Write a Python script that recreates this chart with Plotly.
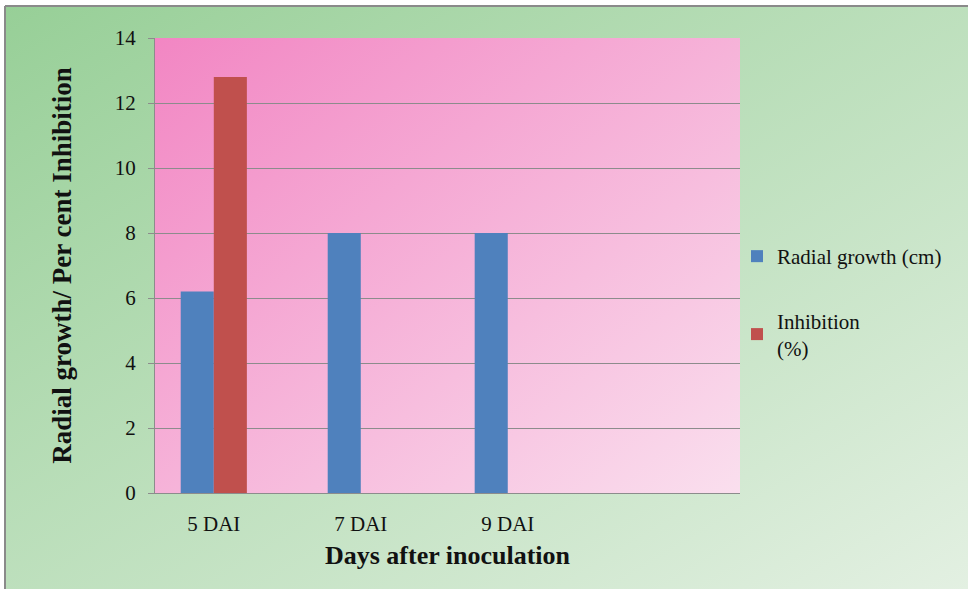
import base64
import plotly.graph_objects as go

# Data
categories = ["5 DAI", "7 DAI", "9 DAI"]
radial_growth = [6.2, 8.0, 8.0]
inhibition = [12.8, 0.0, 0.0]
y_ticks = [0, 2, 4, 6, 8, 10, 12, 14]

W, H = 968, 589
L, R, T, B = 155, 228, 38, 96
pw, ph = W - L - R, H - T - B


def gradient_uri(c0, c1):
    svg = (
        '<svg xmlns="http://www.w3.org/2000/svg" width="100" height="100" '
        'preserveAspectRatio="none" viewBox="0 0 100 100">'
        '<defs><linearGradient id="g" x1="0" y1="0" x2="1" y2="1">'
        f'<stop offset="0" stop-color="{c0}"/><stop offset="1" stop-color="{c1}"/>'
        '</linearGradient></defs><rect width="100" height="100" fill="url(#g)"/></svg>'
    )
    return "data:image/svg+xml;base64," + base64.b64encode(svg.encode()).decode()


def px_x(x):
    return (x - L) / pw


def px_y(y):
    return (H - B - y) / ph


x_pos = list(range(len(categories)))

fig = go.Figure()
fig.add_trace(go.Bar(
    x=x_pos, y=radial_growth, name="Radial growth (cm)",
    marker=dict(color="#4F81BD", line=dict(width=0)), legendgroup="a",
))
fig.add_trace(go.Bar(
    x=x_pos, y=inhibition, name="Inhibition<br>(%)",
    marker=dict(color="#C0504D", line=dict(width=0)), legendgroup="b",
))

font_family = "Liberation Serif"
ink = "#111111"

fig.update_layout(
    width=W, height=H,
    margin=dict(l=L, r=R, t=T, b=B, pad=0),
    paper_bgcolor="white",
    plot_bgcolor="rgba(0,0,0,0)",
    barmode="group", bargap=0.55, bargroupgap=0,
    font=dict(family=font_family, size=20, color=ink),
    showlegend=True,
    legend=dict(
        x=px_x(737), y=px_y(236), xanchor="left", yanchor="top",
        bgcolor="rgba(0,0,0,0)", traceorder="grouped", tracegroupgap=34,
        font=dict(family=font_family, size=21, color=ink),
        itemwidth=30,
    ),
    images=[
        dict(source=gradient_uri("#97CF97", "#E3F0E2"), xref="paper", yref="paper",
             x=px_x(5), y=px_y(6), sizex=px_x(W) - px_x(5), sizey=px_y(6) - px_y(H),
             xanchor="left", yanchor="top", sizing="stretch", layer="below"),
        dict(source=gradient_uri("#F286C3", "#FADFEE"), xref="paper", yref="paper",
             x=0, y=1, sizex=1, sizey=1,
             xanchor="left", yanchor="top", sizing="stretch", layer="below"),
    ],
    shapes=[
        dict(type="line", xref="paper", yref="paper", x0=px_x(5), x1=px_x(5),
             y0=px_y(6), y1=px_y(H), line=dict(color="#8A8A8A", width=2)),
        dict(type="line", xref="paper", yref="paper", x0=px_x(5), x1=px_x(W),
             y0=px_y(6), y1=px_y(6), line=dict(color="#8A8A8A", width=2)),
    ],
)

fig.update_xaxes(
    range=[-0.4, 3.58], tickvals=x_pos, ticktext=categories,
    showgrid=False, zeroline=False, showline=True, linecolor="#8C8C8C", linewidth=1,
    ticks="", ticklabelstandoff=12,
    tickfont=dict(family=font_family, size=21, color=ink),
    title=dict(text="<b>Days after inoculation</b>", standoff=10,
               font=dict(family=font_family, size=26, color=ink)),
)
fig.update_yaxes(
    range=[0, 14], tickvals=y_ticks,
    showgrid=True, gridcolor="#8C8C8C", gridwidth=1,
    zeroline=False, showline=True, linecolor="#8C8C8C", linewidth=1,
    ticks="outside", ticklen=6, tickcolor="#8C8C8C", ticklabelstandoff=8,
    tickfont=dict(family=font_family, size=21, color=ink),
    title=dict(text="<b>Radial growth/ Per cent Inhibition</b>", standoff=35,
               font=dict(family=font_family, size=27, color=ink)),
)

fig.write_html("out.html")
